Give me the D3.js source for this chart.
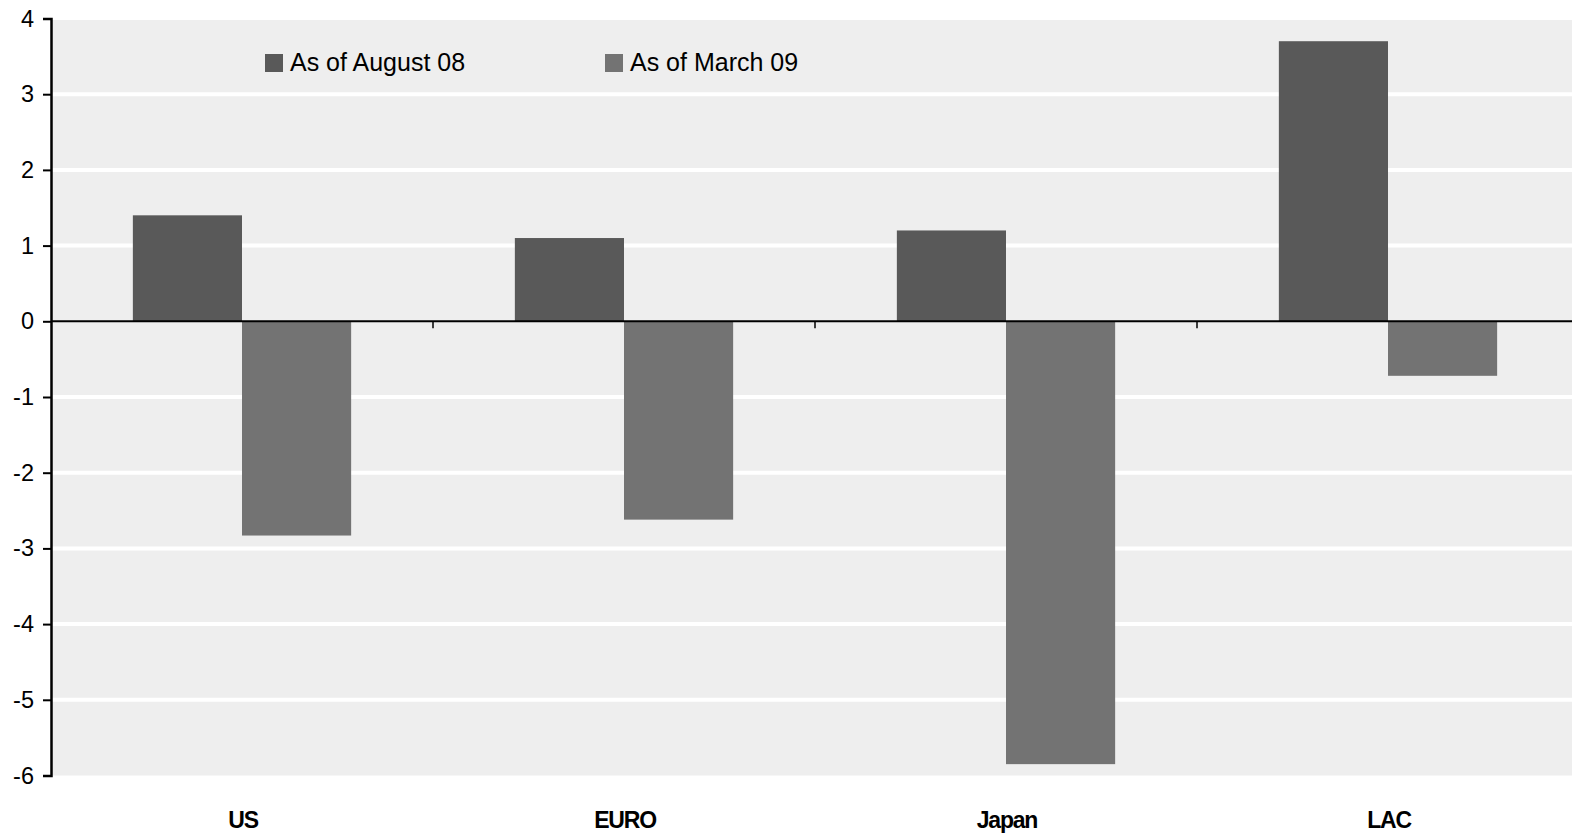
<!DOCTYPE html>
<html>
<head>
<meta charset="utf-8">
<script src="https://cdn.jsdelivr.net/npm/d3@7"></script>
<style>
  html, body { margin: 0; padding: 0; background: #ffffff; }
  svg { display: block; font-family: "Liberation Sans", Arial, sans-serif; }
</style>
</head>
<body>
<svg id="chart" width="1572" height="835"></svg>
<script>
// Output gap estimates by region, two vintages
const categories = ["US", "EURO", "Japan", "LAC"];
const seriesNames = ["As of August 08", "As of March 09"];
const august08 = [1.4, 1.1, 1.2, 3.7];
const march09 = [-2.83, -2.62, -5.85, -0.72];
const yTicks = [4, 3, 2, 1, 0, -1, -2, -3, -4, -5, -6];
const seriesColors = ["#595959", "#737373"];

const svg = d3.select("#chart");
const margin = { left: 51, right: -7, top: 18.5, bottom: 59.5 };
const W = 1572, H = 835;
const plotBottom = H - margin.bottom;

const x = d3.scaleBand()
  .domain(categories)
  .range([margin.left, W - margin.right])
  .paddingInner(0)
  .paddingOuter(0);

const xInner = d3.scaleBand()
  .domain(seriesNames)
  .range([0, x.bandwidth()])
  .paddingInner(0)
  .paddingOuter(0.75);

const y = d3.scaleLinear()
  .domain([-6, 4])
  .range([plotBottom, margin.top]);

// plot background
svg.append("rect")
  .attr("x", margin.left)
  .attr("y", y(4) + 1.5)
  .attr("width", W - margin.left)
  .attr("height", y(-6) - y(4) - 1.5)
  .attr("fill", "#eeeeee");

// horizontal gridlines
svg.append("g")
  .selectAll("line")
  .data(yTicks.filter(t => t !== 4 && t !== -6 && t !== 0))
  .join("line")
  .attr("x1", margin.left)
  .attr("x2", W)
  .attr("y1", d => y(d))
  .attr("y2", d => y(d))
  .attr("stroke", "#ffffff")
  .attr("stroke-width", 4);

// bars
const rows = categories.map((c, i) => ({ cat: c, values: [august08[i], march09[i]] }));
const groups = svg.append("g")
  .selectAll("g")
  .data(rows)
  .join("g")
  .attr("transform", d => `translate(${x(d.cat)},0)`);

groups.selectAll("rect")
  .data(d => d.values.map((v, j) => ({ name: seriesNames[j], value: v, j })))
  .join("rect")
  .attr("x", d => xInner(d.name))
  .attr("width", xInner.bandwidth())
  .attr("y", d => y(Math.max(0, d.value)))
  .attr("height", d => Math.abs(y(d.value) - y(0)))
  .attr("fill", d => seriesColors[d.j]);

// zero line with category separator ticks
svg.append("line")
  .attr("x1", margin.left)
  .attr("x2", W)
  .attr("y1", y(0))
  .attr("y2", y(0))
  .attr("stroke", "#000000")
  .attr("stroke-width", 2);

svg.append("g")
  .selectAll("line")
  .data(categories.slice(1))
  .join("line")
  .attr("x1", d => x(d))
  .attr("x2", d => x(d))
  .attr("y1", y(0))
  .attr("y2", y(0) + 7)
  .attr("stroke", "#000000")
  .attr("stroke-width", 1.5);

// y axis (plain hyphen for negatives)
const yAxis = d3.axisLeft(y)
  .tickValues(yTicks)
  .tickSize(8)
  .tickPadding(9)
  .tickFormat(d => String(d));

const yg = svg.append("g")
  .attr("transform", `translate(${margin.left},0)`)
  .call(yAxis);
yg.select(".domain").attr("stroke", "#000").attr("stroke-width", 2.5);
yg.selectAll(".tick line").attr("stroke", "#000").attr("stroke-width", 2);
yg.selectAll(".tick text")
  .attr("fill", "#000")
  .style("font-size", "23.5px")
  .style("font-family", "'Liberation Sans', Arial, sans-serif");

// category labels
svg.append("g")
  .selectAll("text")
  .data(categories)
  .join("text")
  .attr("x", d => x(d) + x.bandwidth() / 2 + 1)
  .attr("y", 828)
  .attr("text-anchor", "middle")
  .attr("font-size", 23)
  .attr("font-weight", "bold")
  .attr("letter-spacing", "-1.2px")
  .attr("fill", "#000")
  .text(d => d);

// legend
const legendX = [265, 605];
const legend = svg.append("g")
  .selectAll("g")
  .data(seriesNames)
  .join("g")
  .attr("transform", (d, i) => `translate(${legendX[i]},54)`);
legend.append("rect")
  .attr("width", 18)
  .attr("height", 18)
  .attr("fill", (d, i) => seriesColors[i]);
legend.append("text")
  .attr("x", 25)
  .attr("y", 17)
  .attr("font-size", 25)
  .attr("fill", "#000")
  .text(d => d);
</script>
</body>
</html>
